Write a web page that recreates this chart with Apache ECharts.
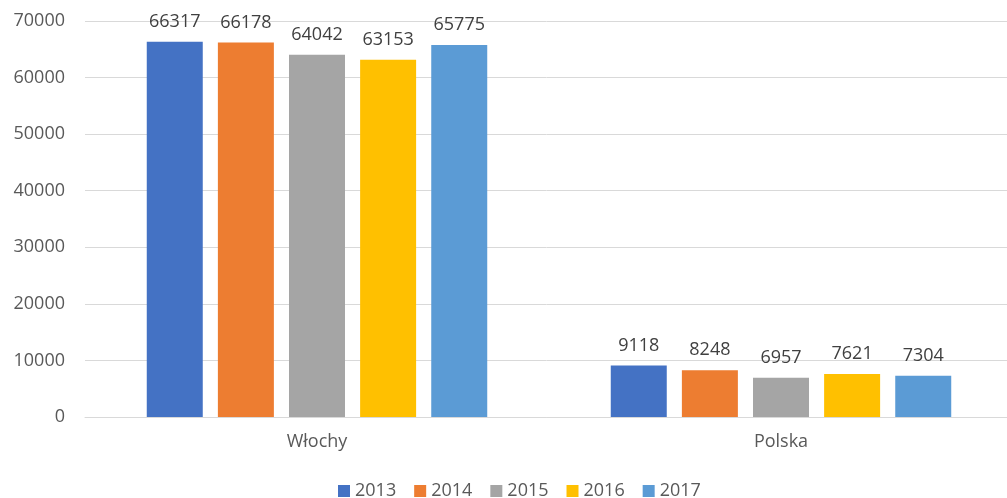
<!DOCTYPE html>
<html>
<head>
<meta charset="utf-8">
<script src="https://cdn.jsdelivr.net/npm/echarts@6/dist/echarts.min.js"></script>
<style>
  html, body { margin: 0; padding: 0; background: #fff; }
  #chart { width: 1007px; height: 498px; }
</style>
</head>
<body>
<div id="chart"></div>
<script>
const countries = ['Włochy', 'Polska']
const years = ['2013', '2014', '2015', '2016', '2017']
const v2013 = [66317, 9118]
const v2014 = [66178, 8248]
const v2015 = [64042, 6957]
const v2016 = [63153, 7621]
const v2017 = [65775, 7304]
const yTicks = [0, 10000, 20000, 30000, 40000, 50000, 60000, 70000]

const colors = ['#4472C4', '#ED7D31', '#A5A5A5', '#FFC000', '#5B9BD5']
const font = "'Open Sans', 'Liberation Sans', sans-serif"
const values = [v2013, v2014, v2015, v2016, v2017]

const chart = echarts.init(document.getElementById('chart'))

chart.setOption({
	animation: false,
	color: colors,
	textStyle: { fontFamily: font },
	grid: { left: 85, width: 928, top: 21, bottom: 81, containLabel: false, outerBoundsMode: 'none' },
	legend: {
		bottom: -7,
		left: 333,
		itemWidth: 12,
		itemHeight: 12,
		itemGap: 18,
		icon: 'rect',
		textStyle: { fontSize: 18, color: '#595959', fontFamily: font },
		data: years,
	},
	xAxis: {
		type: 'category',
		data: countries,
		axisTick: { show: false },
		axisLine: { lineStyle: { color: '#D9D9D9', width: 1 } },
		axisLabel: { fontSize: 18, color: '#595959', margin: 16 },
	},
	yAxis: {
		type: 'value',
		min: yTicks[0],
		max: yTicks[yTicks.length - 1],
		interval: 10000,
		axisLabel: { fontSize: 18, color: '#595959', margin: 20, formatter: (v) => String(v) },
		splitLine: { lineStyle: { color: '#D9D9D9', width: 1 } },
	},
	series: years.map((y, i) => ({
		name: y,
		type: 'bar',
		barWidth: 56,
		barGap: '27%',
		data: values[i],
		label: {
			show: true,
			position: 'top',
			distance: 11,
			fontSize: 18,
			color: '#404040',
			fontFamily: font,
		},
	})),
})
</script>
</body>
</html>
